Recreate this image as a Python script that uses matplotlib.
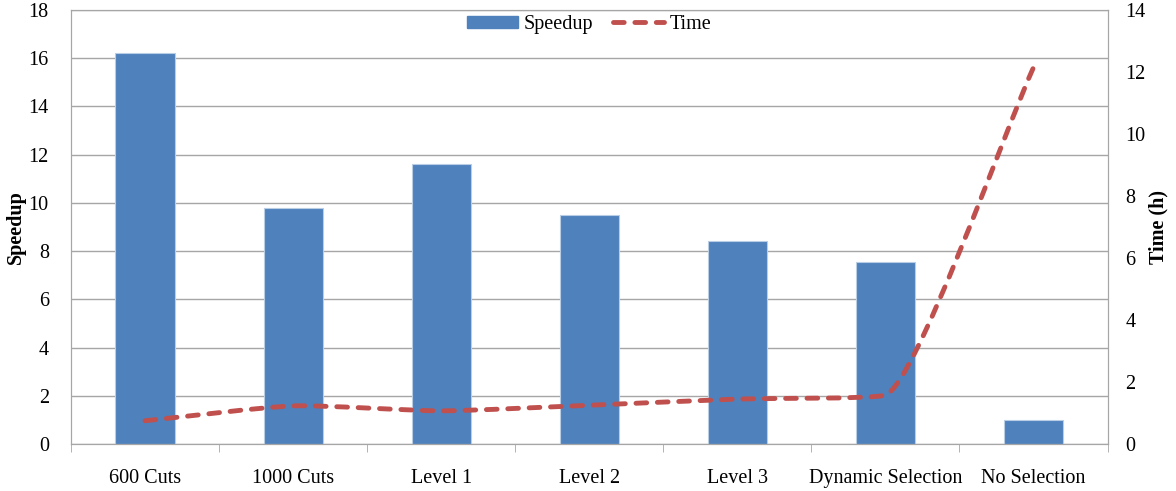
import numpy as np
import matplotlib
matplotlib.use("Agg")
import matplotlib.pyplot as plt
from matplotlib.path import Path
from matplotlib.patches import PathPatch
from matplotlib.lines import Line2D

plt.rcParams['font.family'] = ['Liberation Serif', 'DejaVu Serif']

categories = ['600 Cuts', '1000 Cuts', 'Level 1', 'Level 2', 'Level 3',
              'Dynamic Selection', 'No Selection']
speedup = [16.2, 9.8, 11.6, 9.5, 8.4, 7.55, 1.0]
time_h = [0.75, 1.23, 1.07, 1.25, 1.45, 1.58, 12.15]

bar_color = '#4F81BD'
line_color = '#C0504D'
grid_color = '#A6A6A6'
fs = 14.5
dash = (0, (2.2, 2.2))

fig = plt.figure(figsize=(11.76, 4.91), dpi=100)
ax = fig.add_axes([0.0604, 0.0957, 0.8814, 0.8839])
ax2 = ax.twinx()

x = np.arange(len(categories))
ax.bar(x, speedup, width=0.4, color=bar_color, edgecolor='#B9CDE5',
       linewidth=0.8, zorder=2, label='Speedup')

ax.set_xlim(-0.5, len(categories) - 0.5)
ax.set_ylim(0, 18)
ax.set_yticks(np.arange(0, 19, 2))
ax2.set_ylim(0, 14)
ax2.set_yticks(np.arange(0, 15, 2))

# smoothed time curve: bezier segments built in screen space
fig.canvas.draw()
pts = ax2.transData.transform(np.column_stack([x, time_h]))
n = len(pts)


def tangent(i):
    # direction and damping at point i
    if i == 0:
        u = pts[1] - pts[0]
        return u / np.linalg.norm(u), 1.0
    if i == n - 1:
        u = pts[-1] - pts[-2]
        return u / np.linalg.norm(u), 1.0
    a = pts[i] - pts[i - 1]
    b = pts[i + 1] - pts[i]
    la, lb = np.linalg.norm(a), np.linalg.norm(b)
    ua, ub = a / la, b / lb
    t = ua * lb + ub * la
    return t / np.linalg.norm(t), max(np.dot(ua, ub), 0.0)


verts = [pts[0]]
codes = [Path.MOVETO]
for i in range(n - 1):
    p1, p2 = pts[i], pts[i + 1]
    seg = np.linalg.norm(p2 - p1)
    t1, k1 = tangent(i)
    t2, k2 = tangent(i + 1)
    c1 = p1 + t1 * seg * 0.2 * k1
    c2 = p2 - t2 * seg * 0.2 * k2
    verts += [c1, c2, p2]
    codes += [Path.CURVE4] * 3
path = Path(ax2.transData.inverted().transform(np.array(verts)), codes)
ax2.add_patch(PathPatch(path, facecolor='none', edgecolor=line_color,
                        linewidth=3.5, linestyle=dash,
                        capstyle='round', zorder=3))

ax.tick_params(labelsize=fs, color=grid_color, length=0, pad=16)
ax2.tick_params(labelsize=fs, color=grid_color, length=0, pad=13)
for a in (ax, ax2):
    for s in a.spines.values():
        s.set_color(grid_color)

ax.yaxis.grid(True, color=grid_color, linewidth=1)
ax.set_axisbelow(True)
ax.set_xticks(x)
ax.set_xticklabels(categories)
ax.set_xticks(np.arange(-0.5, len(categories)), minor=True)
ax.tick_params(axis='x', which='major', length=0, pad=18)
ax.tick_params(axis='x', which='minor', length=6, color=grid_color)

ax.set_ylabel('Speedup', fontsize=fs, fontweight='bold', labelpad=2)
ax2.set_ylabel('Time (h)', fontsize=fs, fontweight='bold', labelpad=2)

handles = [plt.Rectangle((0, 0), 1, 1, color=bar_color),
           Line2D([], [], color=line_color, linewidth=3.5, linestyle=dash,
                  dash_capstyle='round')]
ax.legend(handles, ['Speedup', 'Time'], loc='upper center', ncol=2,
          frameon=False, fontsize=fs, bbox_to_anchor=(0.5, 1.03),
          handlelength=2.5, handleheight=0.6, columnspacing=1.0,
          handletextpad=0.3)

fig.savefig('out.png', dpi=100)
